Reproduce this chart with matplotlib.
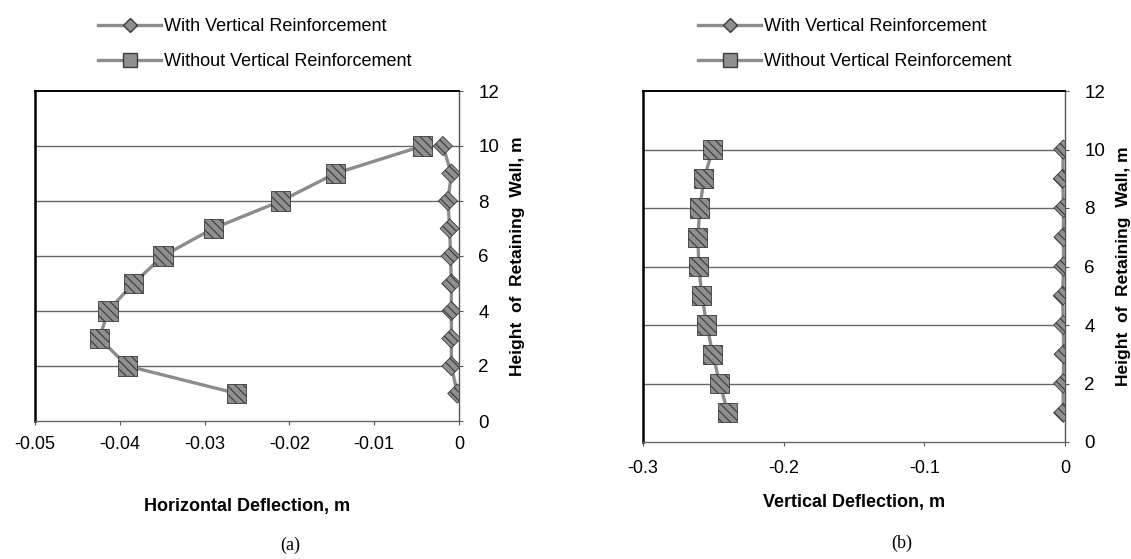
import matplotlib
matplotlib.use("Agg")
import matplotlib.pyplot as plt
from matplotlib.lines import Line2D

plt.rcParams['font.family'] = ['Liberation Sans', 'DejaVu Sans']
plt.rcParams['hatch.linewidth'] = 0.8

# wall height (m)
height = [1, 2, 3, 4, 5, 6, 7, 8, 9, 10]

# (a) horizontal deflection, m
horiz_with = [-0.0002, -0.0009, -0.0009, -0.0009, -0.0009, -0.0010, -0.0011, -0.0013, -0.0009, -0.0019]
horiz_without = [-0.0262, -0.0391, -0.0424, -0.0414, -0.0384, -0.0349, -0.0290, -0.0210, -0.0146, -0.0043]

# (b) vertical deflection, m
vert_with = [-0.0013, -0.0013, -0.0009, -0.0013, -0.0016, -0.0011, -0.0011, -0.0011, -0.0016, -0.0012]
vert_without = [-0.2397, -0.2454, -0.2504, -0.2546, -0.2582, -0.2603, -0.2610, -0.2596, -0.2567, -0.2504]

xticks_a = [-0.05, -0.04, -0.03, -0.02, -0.01, 0]
xticklabels_a = ['-0.05', '-0.04', '-0.03', '-0.02', '-0.01', '0']
xticks_b = [-0.3, -0.2, -0.1, 0]
xticklabels_b = ['-0.3', '-0.2', '-0.1', '0']
yticks = [0, 2, 4, 6, 8, 10, 12]

label_with = 'With Vertical Reinforcement'
label_without = 'Without Vertical Reinforcement'

W, H = 1131, 559
fig = plt.figure(figsize=(W / 100, H / 100), dpi=100)


def px(x0, y0, x1, y1):
    # pixel box -> figure fraction rect
    return [x0 / W, 1 - y1 / H, (x1 - x0) / W, (y1 - y0) / H]


line_col = '#8c8c8c'
face_col = '#8f8f8f'
edge_col = '#3a3a3a'


def draw_panel(ax, x_with, x_without, xlim, xticks, xticklabels, xlabel, xpad, xlabelpad):
    ax.plot(x_with, height, color=line_col, lw=2.4, zorder=3)
    ax.scatter(x_with, height, marker='D', s=95, facecolor=face_col,
               edgecolor=edge_col, hatch='\\\\\\\\', linewidth=0.6, zorder=4)
    ax.plot(x_without, height, color=line_col, lw=2.4, zorder=5)
    ax.scatter(x_without, height, marker='s', s=190, facecolor=face_col,
               edgecolor=edge_col, hatch='\\\\\\\\', linewidth=0.6, zorder=6)

    ax.set_xlim(xlim)
    ax.set_ylim(0, 12)
    ax.set_xticks(xticks)
    ax.set_xticklabels(xticklabels, fontsize=13)
    ax.set_yticks(yticks)
    ax.yaxis.tick_right()
    ax.yaxis.set_label_position('right')
    ax.tick_params(axis='y', labelsize=13.5, length=3, pad=11, color='#555555')
    ax.tick_params(axis='x', length=3, pad=xpad, color='#555555')

    for y in yticks[1:-1]:
        ax.axhline(y, color='#666666', lw=1.0, zorder=1)

    ax.spines['left'].set_linewidth(1.8)
    ax.spines['left'].set_color('black')
    ax.spines['top'].set_linewidth(1.4)
    ax.spines['top'].set_color('black')
    ax.spines['right'].set_linewidth(1.0)
    ax.spines['right'].set_color('#555555')
    ax.spines['bottom'].set_linewidth(1.0)
    ax.spines['bottom'].set_color('#666666')

    ax.set_xlabel(xlabel, fontsize=13, fontweight='bold', labelpad=xlabelpad)
    ax.set_ylabel('Height  of  Retaining  Wall, m', fontsize=12.5,
                  fontweight='bold', labelpad=8)


ax1 = fig.add_axes(px(35, 91, 459, 421))
draw_panel(ax1, horiz_with, horiz_without, (-0.05, 0), xticks_a, xticklabels_a,
           'Horizontal Deflection, m', 8, 32)

ax2 = fig.add_axes(px(643, 91, 1065, 442))
draw_panel(ax2, vert_with, vert_without, (-0.3, 0), xticks_b, xticklabels_b,
           'Vertical Deflection, m', 10, 12)

handles = [
    Line2D([], [], color=line_col, lw=2.4, marker='D', ms=7, mfc=face_col, mec=edge_col),
    Line2D([], [], color=line_col, lw=2.4, marker='s', ms=10, mfc=face_col, mec=edge_col),
]
for x0 in (98, 698):
    fig.legend(handles, [label_with, label_without], loc='upper left',
               bbox_to_anchor=(x0 / W, 1 - 18 / H), frameon=False,
               fontsize=13, handlelength=3.5, handletextpad=0.15,
               borderpad=0, borderaxespad=0, labelspacing=1.0)

fig.text(290 / W, 1 - 545 / H, '(a)', ha='center', va='center',
         fontsize=13, family=['Liberation Serif', 'DejaVu Serif'])
fig.text(902 / W, 1 - 543 / H, '(b)', ha='center', va='center',
         fontsize=13, family=['Liberation Serif', 'DejaVu Serif'])

fig.savefig('out.png', dpi=100)
